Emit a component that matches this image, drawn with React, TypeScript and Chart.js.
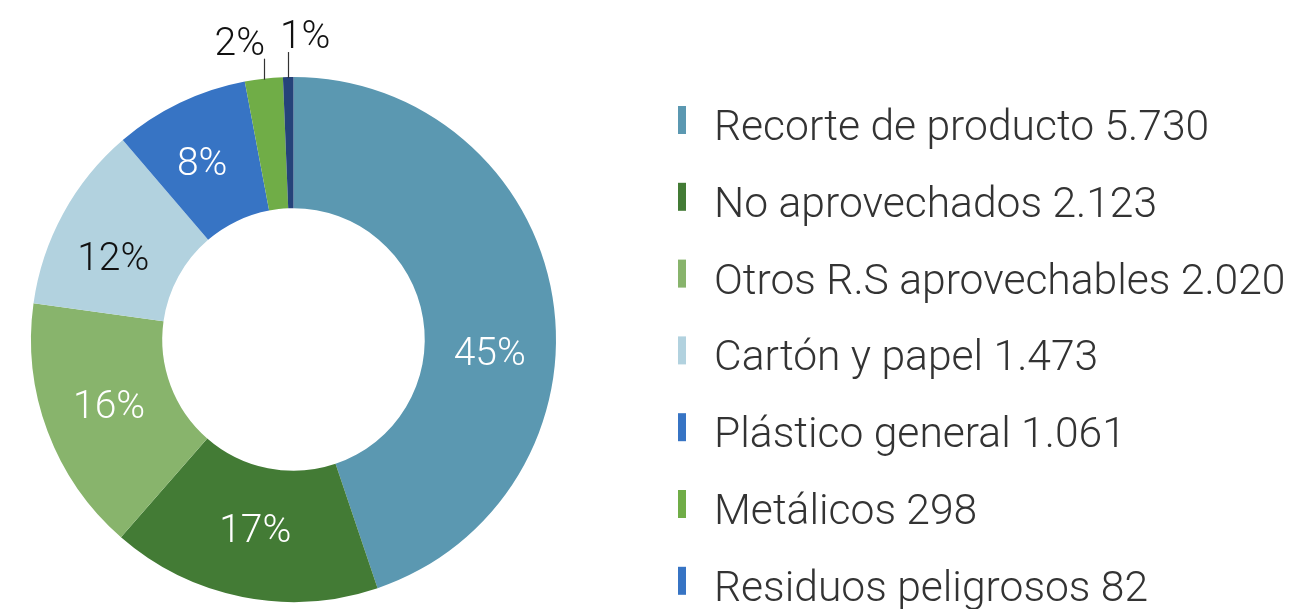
import React, { useEffect, useRef } from "react";
import { Chart, registerables } from "chart.js";

Chart.register(...registerables);

const categories = [
  "Recorte de producto",
  "No aprovechados",
  "Otros R.S aprovechables",
  "Cartón y papel",
  "Plástico general",
  "Metálicos",
  "Residuos peligrosos",
];
const values = [5730, 2123, 2020, 1473, 1061, 298, 82];
const valueLabels = ["5.730", "2.123", "2.020", "1.473", "1.061", "298", "82"];
const sliceColors = ["#5b98b1", "#437b35", "#88b46c", "#b2d2df", "#3774c4", "#70ad47", "#25437a"];
const legendColors = ["#5b98b1", "#437b35", "#88b46c", "#b2d2df", "#3774c4", "#70ad47", "#3774c4"];
const labelTextColors = ["#ffffff", "#ffffff", "#ffffff", "#111111", "#ffffff", "#111111", "#111111"];

const FONT_FAMILY = "Roboto, 'Noto Sans', sans-serif";

const sliceLabelPlugin = {
  id: "sliceLabels",
  afterDatasetsDraw(chart: any, _args: any, opts: any) {
    const ctx = chart.ctx as CanvasRenderingContext2D;
    const meta = chart.getDatasetMeta(0);
    const total = values.reduce((a, b) => a + b, 0);
    ctx.save();
    ctx.font = `300 ${opts.fontSize}px ${FONT_FAMILY}`;
    meta.data.forEach((arc: any, i: number) => {
      const p = arc.getProps(["x", "y", "startAngle", "endAngle", "innerRadius", "outerRadius"], true);
      const pct = Math.round((values[i] / total) * 100);
      const text = `${pct}%`;
      const nudge = ((opts.angleNudge && opts.angleNudge[i]) || 0) * Math.PI / 180;
      const mid = (p.startAngle + p.endAngle) / 2 + nudge;
      ctx.fillStyle = labelTextColors[i];
      if (pct >= 5) {
        const r = (p.innerRadius + p.outerRadius) / 2;
        ctx.textAlign = "center";
        ctx.textBaseline = "middle";
        ctx.fillText(text, p.x + Math.cos(mid) * r, p.y + Math.sin(mid) * r);
      } else {
        const o = (opts.outside && opts.outside[i]) || { len: 22, dx: 0 };
        const px = p.x + Math.cos(mid) * p.outerRadius;
        const py = p.y + Math.sin(mid) * p.outerRadius;
        ctx.strokeStyle = "#333333";
        ctx.lineWidth = 1.2;
        ctx.beginPath();
        ctx.moveTo(Math.round(px) + 0.5, py + 1);
        ctx.lineTo(Math.round(px) + 0.5, py - o.len);
        ctx.stroke();
        ctx.textAlign = "center";
        ctx.textBaseline = "alphabetic";
        ctx.fillText(text, px + o.dx, py - o.len - 4);
      }
    });
    ctx.restore();
  },
};

const sideLegendPlugin = {
  id: "sideLegend",
  afterDraw(chart: any, _args: any, opts: any) {
    const ctx = chart.ctx as CanvasRenderingContext2D;
    ctx.save();
    ctx.font = `300 ${opts.fontSize}px ${FONT_FAMILY}`;
    ctx.textAlign = "left";
    ctx.textBaseline = "alphabetic";
    categories.forEach((c, i) => {
      const base = opts.firstBaseline + i * opts.rowGap;
      ctx.fillStyle = legendColors[i];
      ctx.fillRect(opts.markerX, base - 34, 8, 28);
      ctx.fillStyle = "#333333";
      ctx.fillText(`${c} ${valueLabels[i]}`, opts.textX, base);
    });
    ctx.restore();
  },
};

export default function App() {
  const canvasRef = useRef<HTMLCanvasElement | null>(null);

  useEffect(() => {
    document.body.style.margin = "0";
    const canvas = canvasRef.current;
    if (!canvas) return;
    const chart = new Chart(canvas, {
      type: "doughnut",
      data: {
        labels: categories,
        datasets: [
          {
            data: values,
            backgroundColor: sliceColors,
            borderWidth: 0,
          },
        ],
      },
      options: {
        responsive: false,
        animation: false,
        events: [],
        cutout: "50%",
        layout: { padding: { left: 31, right: 735, top: 77, bottom: 7 } },
        plugins: {
          legend: { display: false },
          tooltip: { enabled: false },
          sliceLabels: {
            fontSize: 39,
            angleNudge: [14, 0, 0, -5, -2, 0, 0],
            outside: { 5: { len: 20, dx: -24 }, 6: { len: 25, dx: 17 } },
          },
          sideLegend: {
            fontSize: 42.6,
            markerX: 678,
            textX: 714,
            firstBaseline: 140,
            rowGap: 76.8,
          },
        } as any,
      },
      plugins: [sliceLabelPlugin, sideLegendPlugin],
    });
    return () => chart.destroy();
  }, []);

  return (
    <div style={{ width: 1291, height: 609, background: "#ffffff" }}>
      <canvas ref={canvasRef} width={1291} height={609} style={{ display: "block" }} />
    </div>
  );
}
